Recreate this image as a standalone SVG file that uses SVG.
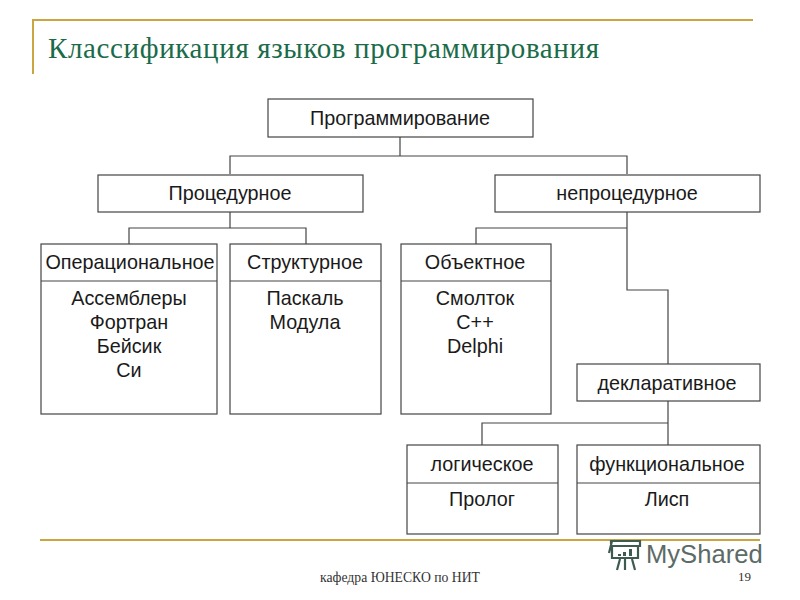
<svg xmlns="http://www.w3.org/2000/svg" width="800" height="600" viewBox="0 0 800 600">
<style>
.b{fill:#fff;stroke:#444;stroke-width:1.2}
.c{fill:none;stroke:#444;stroke-width:1.2}
.g{fill:none;stroke:#c9a640;stroke-width:2}
.t{font-family:"Liberation Sans",Arial,sans-serif;font-size:19.8px;fill:#1a1a1a;text-anchor:middle}
.f{font-family:"Liberation Serif","Times New Roman",serif;font-size:13.7px;fill:#333}
</style>
<rect width="800" height="600" fill="#fff"/>
<g id="decor">
<path class="g" d="M33 74V20H753"/>
<path class="g" d="M40 540H760"/>
<text x="48" y="58" style="font-family:'Liberation Serif','Times New Roman',serif;font-size:29px;fill:#1a6b4a;letter-spacing:0.63px">Классификация языков программирования</text>
<text class="f" x="400" y="582" text-anchor="middle">кафедра ЮНЕСКО по НИТ</text>
<text class="f" x="738" y="581" style="font-size:13px">19</text>
</g>
<g id="connectors">
<path class="c" d="M400 137V156M230 174V156H627V174"/>
<path class="c" d="M230 212V228M129 244V228H306V244"/>
<path class="c" d="M627 212V228M476 244V228H627M627 228V290H668V364"/>
<path class="c" d="M668 401V445M482 445V423H668"/>
</g>
<g id="n1"><rect class="b" x="268" y="99" width="265" height="38"/><text class="t" x="400" y="125">Программирование</text></g>
<g id="n2"><rect class="b" x="98" y="175" width="265" height="37"/><text class="t" x="230" y="200">Процедурное</text></g>
<g id="n3"><rect class="b" x="495" y="175" width="265" height="37"/><text class="t" x="627" y="200">непроцедурное</text></g>
<g id="n4"><rect class="b" x="41" y="244" width="176" height="170"/><path class="c" d="M41 281H217"/><text class="t" x="130" y="269">Операциональное</text><text class="t" x="129" y="305">Ассемблеры</text><text class="t" x="129" y="329">Фортран</text><text class="t" x="129" y="353">Бейсик</text><text class="t" x="129" y="377">Си</text></g>
<g id="n5"><rect class="b" x="230" y="244" width="151" height="170"/><path class="c" d="M230 281H381"/><text class="t" x="305" y="269">Структурное</text><text class="t" x="305" y="305">Паскаль</text><text class="t" x="305" y="329">Модула</text></g>
<g id="n6"><rect class="b" x="401" y="244" width="150" height="170"/><path class="c" d="M401 281H551"/><text class="t" x="475" y="269">Объектное</text><text class="t" x="475" y="305">Смолток</text><text class="t" x="475" y="329">C++</text><text class="t" x="475" y="353">Delphi</text></g>
<g id="n7"><rect class="b" x="577" y="364" width="183" height="37"/><text class="t" x="667" y="390">декларативное</text></g>
<g id="n8"><rect class="b" x="407" y="445" width="151" height="89"/><path class="c" d="M407 483H558"/><text class="t" x="482" y="471">логическое</text><text class="t" x="482" y="506">Пролог</text></g>
<g id="n9"><rect class="b" x="577" y="445" width="183" height="89"/><path class="c" d="M577 483H760"/><text class="t" x="667" y="471">функциональное</text><text class="t" x="667" y="506">Лисп</text></g>
<g id="watermark">
<text x="646" y="563" style="font-family:'Liberation Sans',Arial,sans-serif;font-size:25.6px;fill:#5c6b66">MyShared</text>
<g fill="none" stroke="#3f5a50" stroke-width="2.2"><path d="M611 544V541H640V546H612V558H638V546M612 541L609 553"/><path d="M620 559L617 570M625 559V570M632 559L635 570"/></g>
<path d="M618 554h3v2h-3zM623 552h3v4h-3zM629 549h3v7h-3z" fill="#3f5a50"/>
</g>
</svg>
